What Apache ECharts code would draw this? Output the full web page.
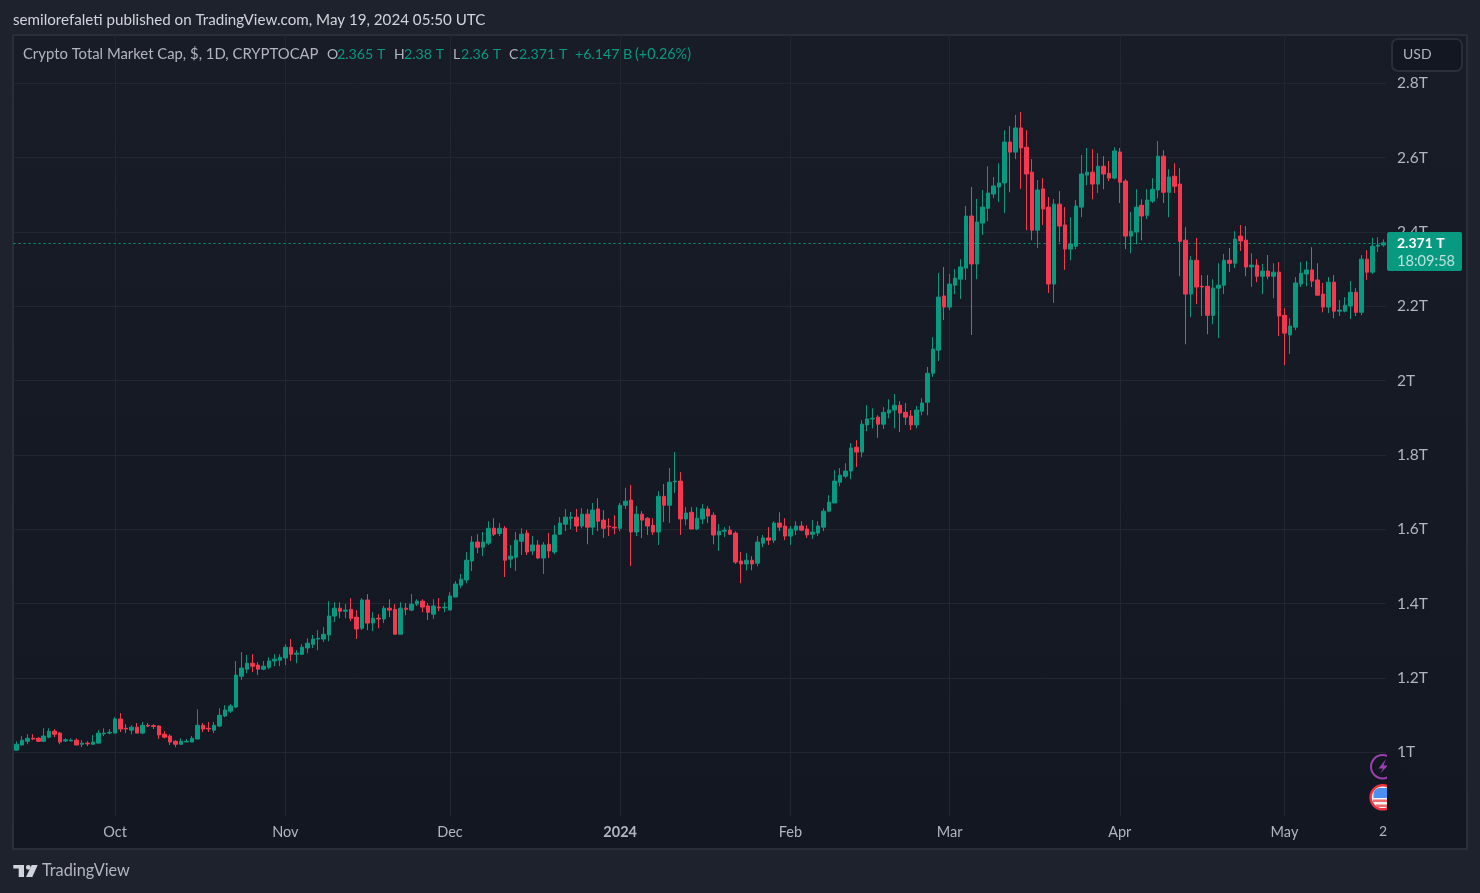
<!DOCTYPE html>
<html><head><meta charset="utf-8">
<style>html,body{margin:0;padding:0;background:#1e222d;overflow:hidden}#c{width:1480px;height:893px}</style>
<script src="https://cdn.jsdelivr.net/npm/echarts@6/dist/echarts.min.js"></script>
</head><body><div id="c"></div>
<script>
var firstDate = '2023-09-13';
var opens = [
1.006,1.020,1.030,1.038,1.038,1.030,1.041,1.057,1.052,1.031,
1.031,1.033,1.022,1.025,1.022,1.025,1.050,1.052,1.052,1.090,
1.065,1.060,1.068,1.052,1.073,1.072,1.071,1.049,1.044,1.030,
1.022,1.028,1.028,1.036,1.073,1.065,1.060,1.071,1.098,1.111,
1.122,1.205,1.224,1.240,1.235,1.224,1.229,1.246,1.248,1.254,
1.283,1.264,1.264,1.281,1.291,1.305,1.305,1.316,1.367,1.388,
1.380,1.385,1.364,1.334,1.410,1.348,1.361,1.359,1.388,1.385,
1.318,1.388,1.383,1.399,1.407,1.394,1.372,1.391,1.389,1.383,
1.418,1.450,1.464,1.515,1.566,1.552,1.563,1.603,1.589,1.603,
1.520,1.525,1.568,1.590,1.542,1.558,1.523,1.560,1.539,1.587,
1.614,1.630,1.633,1.609,1.641,1.606,1.655,1.625,1.609,1.606,
1.603,1.665,1.679,1.593,1.641,1.630,1.611,1.593,1.689,1.665,
1.728,1.730,1.628,1.646,1.601,1.628,1.655,1.638,1.585,1.595,
1.598,1.590,1.515,1.507,1.517,1.509,1.563,1.577,1.571,1.617,
1.609,1.582,1.598,1.609,1.601,1.587,1.590,1.606,1.649,1.671,
1.727,1.743,1.757,1.821,1.808,1.881,1.897,1.902,1.883,1.913,
1.921,1.934,1.915,1.905,1.881,1.918,1.942,2.020,2.082,2.228,
2.198,2.257,2.273,2.303,2.443,2.314,2.424,2.464,2.502,2.521,
2.532,2.642,2.615,2.680,2.628,2.561,2.405,2.516,2.467,2.260,
2.475,2.419,2.354,2.362,2.467,2.553,2.561,2.529,2.577,2.558,
2.545,2.615,2.537,2.389,2.400,2.472,2.445,2.483,2.513,2.604,
2.507,2.550,2.529,2.378,2.233,2.324,2.254,2.254,2.176,2.249,
2.257,2.324,2.316,2.389,2.378,2.306,2.311,2.281,2.295,2.281,
2.292,2.176,2.123,2.144,2.260,2.287,2.298,2.271,2.233,2.198,
2.265,2.187,2.187,2.201,2.238,2.184,2.327,2.292,2.362,2.365];
var highs = [
1.030,1.044,1.049,1.049,1.041,1.065,1.065,1.063,1.055,1.038,
1.038,1.038,1.033,1.030,1.047,1.060,1.065,1.063,1.095,1.106,
1.076,1.073,1.079,1.082,1.079,1.076,1.073,1.057,1.049,1.033,
1.038,1.036,1.044,1.116,1.079,1.082,1.082,1.119,1.127,1.130,
1.246,1.270,1.262,1.264,1.243,1.246,1.256,1.264,1.264,1.291,
1.305,1.275,1.291,1.307,1.316,1.329,1.337,1.407,1.404,1.404,
1.399,1.415,1.383,1.415,1.426,1.377,1.372,1.394,1.412,1.399,
1.404,1.402,1.426,1.412,1.412,1.402,1.412,1.415,1.404,1.431,
1.461,1.480,1.539,1.582,1.587,1.593,1.622,1.630,1.617,1.609,
1.558,1.593,1.603,1.598,1.582,1.571,1.566,1.590,1.611,1.633,
1.655,1.647,1.655,1.657,1.655,1.671,1.684,1.652,1.630,1.638,
1.671,1.712,1.720,1.663,1.649,1.633,1.630,1.703,1.722,1.765,
1.808,1.754,1.660,1.660,1.660,1.668,1.663,1.646,1.614,1.606,
1.609,1.595,1.539,1.536,1.528,1.582,1.585,1.606,1.622,1.646,
1.630,1.609,1.622,1.622,1.611,1.625,1.622,1.657,1.692,1.759,
1.765,1.778,1.832,1.840,1.894,1.934,1.926,1.907,1.929,1.950,
1.964,1.945,1.940,1.921,1.932,1.953,2.037,2.117,2.290,2.306,
2.287,2.300,2.327,2.470,2.521,2.489,2.513,2.577,2.548,2.585,
2.674,2.685,2.715,2.723,2.674,2.596,2.540,2.545,2.494,2.489,
2.510,2.467,2.440,2.486,2.607,2.626,2.623,2.612,2.604,2.591,
2.628,2.626,2.542,2.454,2.515,2.488,2.515,2.545,2.645,2.620,
2.569,2.585,2.572,2.413,2.335,2.384,2.284,2.284,2.273,2.316,
2.341,2.357,2.402,2.419,2.416,2.343,2.327,2.314,2.338,2.316,
2.319,2.195,2.168,2.279,2.319,2.322,2.359,2.316,2.263,2.279,
2.284,2.217,2.225,2.268,2.249,2.338,2.351,2.384,2.386,2.380];
var lows = [
1.006,1.020,1.022,1.033,1.028,1.028,1.038,1.041,1.022,1.028,
1.030,1.020,1.014,1.017,1.020,1.025,1.044,1.049,1.052,1.055,
1.052,1.049,1.052,1.049,1.068,1.063,1.036,1.038,1.020,1.014,
1.020,1.028,1.028,1.036,1.055,1.055,1.052,1.068,1.095,1.106,
1.119,1.195,1.213,1.216,1.208,1.221,1.224,1.232,1.232,1.235,
1.246,1.240,1.262,1.267,1.281,1.275,1.297,1.299,1.351,1.361,
1.361,1.353,1.305,1.329,1.329,1.326,1.334,1.348,1.364,1.318,
1.318,1.369,1.380,1.394,1.377,1.356,1.359,1.380,1.377,1.383,
1.418,1.442,1.455,1.488,1.536,1.528,1.558,1.582,1.582,1.472,
1.496,1.488,1.531,1.531,1.531,1.520,1.480,1.523,1.533,1.585,
1.595,1.601,1.593,1.603,1.560,1.585,1.595,1.577,1.582,1.587,
1.595,1.655,1.501,1.582,1.577,1.585,1.585,1.558,1.620,1.617,
1.698,1.585,1.611,1.601,1.598,1.614,1.617,1.560,1.542,1.579,
1.585,1.507,1.455,1.490,1.490,1.501,1.552,1.558,1.563,1.595,
1.571,1.558,1.585,1.595,1.577,1.574,1.582,1.595,1.646,1.671,
1.716,1.738,1.735,1.768,1.794,1.864,1.872,1.846,1.870,1.899,
1.872,1.862,1.881,1.867,1.872,1.907,1.907,2.010,2.053,2.163,
2.190,2.233,2.220,2.271,2.123,2.273,2.392,2.429,2.491,2.481,
2.451,2.507,2.596,2.516,2.405,2.378,2.357,2.419,2.236,2.209,
2.373,2.298,2.324,2.354,2.440,2.526,2.488,2.505,2.515,2.537,
2.542,2.478,2.354,2.343,2.367,2.378,2.435,2.478,2.491,2.478,
2.440,2.505,2.281,2.098,2.171,2.206,2.174,2.125,2.152,2.115,
2.233,2.292,2.303,2.349,2.281,2.252,2.265,2.233,2.273,2.222,
2.120,2.042,2.072,2.136,2.252,2.254,2.252,2.230,2.184,2.182,
2.168,2.174,2.184,2.166,2.174,2.176,2.271,2.287,2.346,2.360];
var closes = [
1.022,1.033,1.038,1.036,1.030,1.044,1.057,1.049,1.028,1.034,
1.033,1.020,1.025,1.023,1.028,1.052,1.052,1.054,1.090,1.063,
1.063,1.068,1.052,1.073,1.071,1.070,1.047,1.041,1.028,1.022,
1.030,1.030,1.038,1.073,1.063,1.063,1.073,1.100,1.114,1.125,
1.208,1.227,1.240,1.232,1.224,1.232,1.246,1.251,1.256,1.283,
1.264,1.267,1.283,1.294,1.305,1.307,1.318,1.367,1.388,1.380,
1.383,1.361,1.332,1.410,1.348,1.361,1.359,1.388,1.383,1.318,
1.388,1.385,1.399,1.407,1.391,1.377,1.394,1.389,1.391,1.421,
1.453,1.466,1.517,1.566,1.552,1.566,1.603,1.587,1.603,1.517,
1.528,1.571,1.587,1.539,1.558,1.523,1.558,1.542,1.585,1.617,
1.633,1.633,1.609,1.641,1.606,1.652,1.622,1.603,1.607,1.604,
1.665,1.676,1.593,1.641,1.625,1.609,1.593,1.689,1.665,1.727,
1.730,1.628,1.644,1.601,1.630,1.655,1.636,1.585,1.595,1.598,
1.587,1.512,1.507,1.517,1.507,1.566,1.577,1.571,1.617,1.606,
1.582,1.601,1.609,1.598,1.585,1.593,1.609,1.649,1.673,1.730,
1.746,1.757,1.819,1.808,1.883,1.897,1.899,1.883,1.915,1.921,
1.934,1.913,1.902,1.881,1.921,1.940,2.020,2.085,2.225,2.198,
2.260,2.276,2.306,2.443,2.314,2.427,2.467,2.505,2.524,2.532,
2.642,2.615,2.680,2.626,2.556,2.405,2.513,2.462,2.260,2.475,
2.416,2.354,2.368,2.470,2.556,2.561,2.529,2.577,2.556,2.545,
2.618,2.534,2.389,2.402,2.467,2.443,2.486,2.515,2.604,2.507,
2.548,2.523,2.375,2.233,2.324,2.252,2.252,2.176,2.249,2.257,
2.324,2.316,2.381,2.376,2.306,2.311,2.281,2.295,2.281,2.292,
2.174,2.128,2.147,2.263,2.289,2.298,2.268,2.230,2.198,2.265,
2.187,2.190,2.203,2.238,2.184,2.327,2.292,2.362,2.365,2.371];
var tickDates = ['2023-10-01','2023-11-01','2023-12-01','2024-01-01','2024-02-01','2024-03-01','2024-04-01','2024-05-01'];
var tickLabels = ['Oct','Nov','Dec','2024','Feb','Mar','Apr','May'];
var lastPrice = 2.3718;

var FONT = 'Lato';
var GRAY = '#b2b5be', UP = '#089981', DOWN = '#f7374f', GRID = '#22262f';

var dates = opens.map(function (_, i) {
  var d = new Date(Date.UTC(2023, 8, 13 + i));
  return d.toISOString().slice(0, 10);
});
var candles = opens.map(function (o, i) { return [o, closes[i], lows[i], highs[i]]; });

function txt(x, y, s, fill, size, weight, align) {
  return { type: 'text', x: x, y: y, z: 100, silent: true,
    style: { text: s, fill: fill, font: (weight || 'normal') + ' ' + (size || 14) + 'px ' + FONT,
      textAlign: align || 'left', textVerticalAlign: 'middle' } };
}
function poly(points, fill) {
  return { type: 'polygon', z: 100, silent: true, shape: { points: points }, style: { fill: fill } };
}
function rect(x, y, w, h, fill, z, extra) {
  return { type: 'rect', z: z, silent: true, shape: Object.assign({ x: x, y: y, width: w, height: h }, extra || {}), style: { fill: fill } };
}

var graphics = [
  { type: 'rect', z: -10, silent: true, shape: { x: 13, y: 35, width: 1454, height: 814 },
    style: { fill: new echarts.graphic.LinearGradient(0, 0, 0, 1, [{ offset: 0, color: '#181c27' }, { offset: 1, color: '#131722' }]),
      stroke: '#2a2e39', lineWidth: 2 } },
  txt(13, 20, 'semilorefaleti published on TradingView.com, May 19, 2024 05:50 UTC', '#d1d4dc', 15.17),
  txt(23, 54, 'Crypto Total Market Cap, $, 1D, CRYPTOCAP', GRAY, 14.85),
  txt(327, 54, 'O', GRAY, 14), txt(337, 54, '2.365 T', UP, 14.2),
  txt(394, 54, 'H', GRAY, 14), txt(404, 54, '2.38 T', UP, 14.2),
  txt(453, 54, 'L', GRAY, 14), txt(461, 54, '2.36 T', UP, 14.2),
  txt(509, 54, 'C', GRAY, 14), txt(519, 54, '2.371 T', UP, 14.2),
  txt(575, 54, '+6.147 B', UP, 14.2), txt(635, 54, '(+0.26%)', UP, 14.4),
  { type: 'rect', z: 100, silent: true, shape: { x: 1392, y: 39, width: 70, height: 32, r: 6 },
    style: { fill: '#131722', stroke: '#2a2e39', lineWidth: 2 } },
  txt(1403, 54, 'USD', GRAY, 14),
  rect(1387, 232, 75, 39, UP, 100, { r: 2 }),
  txt(1397, 243, '2.371 T', '#ffffff', 14, 'bold'),
  txt(1397, 261, '18:09:58', '#b8e2da', 14.6),
  // event badges, clipped at the price scale by the mask below
  { type: 'circle', z: 96, silent: true, shape: { cx: 1382.7, cy: 766.7, r: 11.7 }, style: { fill: '#131722', stroke: '#9c3fb0', lineWidth: 2 } },
  { type: 'polygon', z: 97, silent: true, shape: { points: [[1386, 759], [1378.5, 768.5], [1383, 768.5], [1380, 773.5], [1388, 765.5], [1383.5, 765.5]] }, style: { fill: '#9c3fb0' } },
  { type: 'circle', z: 96, silent: true, shape: { cx: 1382.6, cy: 797.3, r: 12 }, style: { fill: '#f4f4f4', stroke: '#ee3342', lineWidth: 2.5 } },
  { type: 'rect', z: 97, silent: true, shape: { x: 1373.5, y: 788, width: 13.5, height: 10, r: [6, 0, 0, 0] }, style: { fill: '#4b8ff0' } },
  { type: 'rect', z: 97, silent: true, shape: { x: 1373, y: 799.5, width: 14, height: 2.5 }, style: { fill: '#ee6b6b' } },
  { type: 'rect', z: 97, silent: true, shape: { x: 1376, y: 804.5, width: 11, height: 2.5 }, style: { fill: '#ee6b6b' } },
  rect(1387, 753, 14, 62, '#131722', 99),
  txt(1387, 831, '2', GRAY, 14, 'normal', 'right'),
  poly([[13.3, 865], [24, 865], [24, 877], [18.7, 877], [18.7, 868.5], [13.3, 868.5]], '#d1d4dc'),
  { type: 'circle', z: 100, silent: true, shape: { cx: 28.3, cy: 867.3, r: 2.4 }, style: { fill: '#d1d4dc' } },
  poly([[31.7, 865], [37.7, 865], [32.3, 877], [26, 877]], '#d1d4dc'),
  txt(42, 871, 'TradingView', GRAY, 16.3)
];

var chart = echarts.init(document.getElementById('c'), null, { renderer: 'canvas', width: 1480, height: 893 });
chart.setOption({
  animation: false,
  backgroundColor: '#1e222d',
  graphic: graphics,
  grid: { left: 13.55, width: 1372.5, top: 35, bottom: 77 },
  xAxis: {
    type: 'category', data: dates, boundaryGap: true,
    axisLine: { show: false }, axisTick: { show: false }, splitLine: { show: false },
    axisLabel: {
      interval: function (i, v) { return tickDates.indexOf(v) >= 0; },
      margin: 9, hideOverlap: false,
      formatter: function (v) {
        var s = tickLabels[tickDates.indexOf(v)];
        return s === '2024' ? '{b|' + s + '}' : '{a|' + s + '}';
      },
      rich: { a: { color: GRAY, fontSize: 14.5, fontFamily: FONT }, b: { color: GRAY, fontSize: 14.5, fontFamily: FONT, fontWeight: 'bold' } }
    }
  },
  yAxis: {
    type: 'value', position: 'right', min: 0.829, max: 2.93, splitNumber: 10,
    axisLine: { show: false }, axisTick: { show: false },
    splitLine: { show: true, showMinLine: false, showMaxLine: false, lineStyle: { color: GRID, width: 1 } },
    axisLabel: {
      margin: 11, color: GRAY, fontSize: 15.5, fontFamily: FONT, showMinLabel: false, showMaxLabel: false,
      padding: [2, 0, 0, 0],
      formatter: function (v) { return (+v.toFixed(1)) + 'T'; }
    }
  },
  series: [
    { type: 'line', data: [], z: 1, silent: true,
      markLine: { z: 1, silent: true, symbol: 'none', animation: false, label: { show: false },
        lineStyle: { color: GRID, width: 1, type: 'solid' },
        data: tickDates.map(function (d) { return { xAxis: dates.indexOf(d) }; }) } },
    { type: 'candlestick', z: 3, barWidth: 4, data: candles,
      itemStyle: { color: UP, color0: DOWN, borderColor: UP, borderColor0: DOWN, borderWidth: 1 },
      markLine: { z: 2, silent: true, symbol: 'none', animation: false, label: { show: false },
        lineStyle: { color: UP, width: 1, type: [2, 3] },
        data: [{ yAxis: lastPrice }] } }
  ]
});
</script></body></html>
